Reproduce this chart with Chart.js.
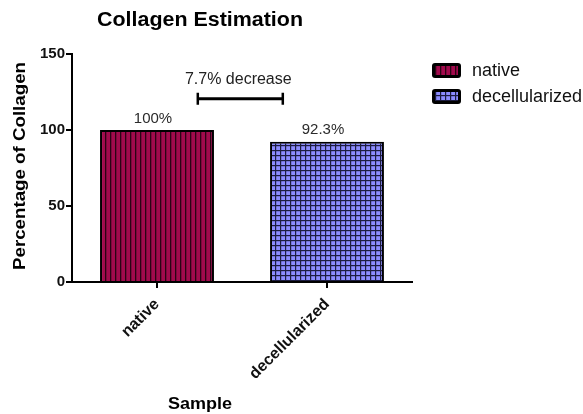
<!DOCTYPE html>
<html>
<head>
<meta charset="utf-8">
<script src="https://cdn.jsdelivr.net/npm/chart.js@4.4.0/dist/chart.umd.min.js"></script>
<style>
  html, body { margin: 0; padding: 0; background: #ffffff; }
  #wrap { width: 583px; height: 414px; }
</style>
</head>
<body>
<div id="wrap"><canvas id="chart" width="583" height="414"></canvas></div>
<script>
// Chart data
const categories = ['native', 'decellularized'];
const collagenPercent = [100, 92.3];
const valueLabels = ['100%', '92.3%'];
const yTicks = [0, 50, 100, 150];

// comparison bracket (category index span, value level)
const bracketLabel = '7.7% decrease';
const bracketSpan = [0.24, 0.74];
const bracketLevel = 120.5;

const FONT = '"Liberation Sans", Arial, sans-serif';

// hatch patterns like the original GraphPad fills
function stripePattern() {
    const c = document.createElement('canvas');
    c.width = 5; c.height = 5;
    const g = c.getContext('2d');
    g.fillStyle = '#a10a4c';
    g.fillRect(0, 0, 5, 5);
    g.fillStyle = '#2a0414';
    g.fillRect(0, 0, 1.3, 5);
    return g.createPattern(c, 'repeat');
}

function gridPattern() {
    const c = document.createElement('canvas');
    c.width = 5; c.height = 5;
    const g = c.getContext('2d');
    g.fillStyle = '#8c8cff';
    g.fillRect(0, 0, 5, 5);
    g.fillStyle = '#1c1c40';
    g.fillRect(0, 0, 1.2, 5);
    g.fillRect(0, 0, 5, 1.2);
    return g.createPattern(c, 'repeat');
}

const fills = [stripePattern(), gridPattern()];

// one dataset per sample so each gets its own legend entry
const datasets = categories.map((name, i) => ({
    label: name,
    data: categories.map((_, j) => (j === i ? collagenPercent[i] : null)),
    backgroundColor: fills[i],
    borderColor: '#000000',
    borderWidth: 2,
    borderSkipped: 'bottom',
    barPercentage: 0.67,
    categoryPercentage: 1.0,
    grouped: false
}));

// text squeezed/stretched to a given width, the way the exported figure looks
function fitText(ctx, text, cx, cy, width) {
    const w = ctx.measureText(text).width;
    ctx.save();
    ctx.translate(cx, cy);
    ctx.scale(width / w, 1);
    ctx.textAlign = 'center';
    ctx.fillText(text, 0, 0);
    ctx.restore();
}

const extrasPlugin = {
    id: 'extras',
    afterDatasetsDraw(chart) {
        const ctx = chart.ctx;
        const x = chart.scales.x;
        const y = chart.scales.y;
        ctx.save();

        // value labels over bars
        ctx.font = '15px ' + FONT;
        ctx.fillStyle = '#2b2b2b';
        ctx.textAlign = 'center';
        ctx.textBaseline = 'bottom';
        collagenPercent.forEach((v, i) => {
            ctx.fillText(valueLabels[i], x.getPixelForValue(i) - 4, y.getPixelForValue(v) - 4);
        });

        // bracket
        const step = x.getPixelForValue(1) - x.getPixelForValue(0);
        const bx0 = x.getPixelForValue(0) + bracketSpan[0] * step;
        const bx1 = x.getPixelForValue(0) + bracketSpan[1] * step;
        const by = y.getPixelForValue(bracketLevel);
        ctx.strokeStyle = '#000000';
        ctx.lineWidth = 3;
        ctx.beginPath();
        ctx.moveTo(bx0, by); ctx.lineTo(bx1, by);
        ctx.stroke();
        ctx.lineWidth = 2.5;
        ctx.beginPath();
        ctx.moveTo(bx0, by - 6); ctx.lineTo(bx0, by + 6);
        ctx.moveTo(bx1, by - 6); ctx.lineTo(bx1, by + 6);
        ctx.stroke();
        ctx.font = '16px ' + FONT;
        ctx.fillStyle = '#222222';
        ctx.textBaseline = 'middle';
        ctx.fillText(bracketLabel, (bx0 + bx1) / 2 - 2, by - 19);

        // chart title
        ctx.font = 'bold 20px ' + FONT;
        ctx.fillStyle = '#000000';
        ctx.textBaseline = 'middle';
        fitText(ctx, 'Collagen Estimation', 200, 20, 206);

        // y axis title
        ctx.save();
        ctx.translate(20, 166);
        ctx.rotate(-Math.PI / 2);
        ctx.font = 'bold 17px ' + FONT;
        fitText(ctx, 'Percentage of Collagen', 0, 0, 208);
        ctx.restore();

        // x axis title
        ctx.font = 'bold 17px ' + FONT;
        fitText(ctx, 'Sample', 200, 404, 64);

        // legend
        chart.data.datasets.forEach((ds, i) => {
            const ly = 63 + i * 26;
            ctx.fillStyle = '#000000';
            ctx.beginPath();
            ctx.roundRect(432, ly, 29, 15, 3);
            ctx.fill();
            ctx.fillStyle = ds.backgroundColor;
            ctx.fillRect(435, ly + 3, 23, 9);
            ctx.fillStyle = '#111111';
            ctx.font = '18px ' + FONT;
            ctx.textAlign = 'left';
            ctx.textBaseline = 'middle';
            ctx.fillText(ds.label, 472, ly + 8);
        });
        ctx.restore();
    }
};

const whiteBg = {
    id: 'whiteBg',
    beforeDraw(chart) {
        const ctx = chart.ctx;
        ctx.save();
        ctx.fillStyle = '#ffffff';
        ctx.fillRect(0, 0, chart.width, chart.height);
        ctx.restore();
    }
};

new Chart(document.getElementById('chart'), {
    type: 'bar',
    data: { labels: categories, datasets: datasets },
    options: {
        responsive: false,
        animation: false,
        layout: { padding: { top: 54, left: 10, right: 171, bottom: 0 } },
        plugins: {
            legend: { display: false },
            title: { display: false },
            tooltip: { enabled: false }
        },
        scales: {
            x: {
                offset: true,
                grid: { display: true, drawOnChartArea: false, offset: false, tickLength: 6, lineWidth: 2, color: '#000000' },
                border: { display: true, color: '#000000', width: 2 },
                ticks: {
                    minRotation: 45,
                    maxRotation: 45,
                    padding: 7,
                    color: '#111111',
                    font: { family: FONT, size: 16, weight: 'bold' }
                },
                afterFit(scale) { scale.height = 132; }
            },
            y: {
                min: 0,
                max: 150,
                afterBuildTicks(scale) { scale.ticks = yTicks.map(v => ({ value: v })); },
                grid: { display: true, drawOnChartArea: false, tickLength: 6, lineWidth: 2, color: '#000000' },
                border: { display: true, color: '#000000', width: 2 },
                ticks: {
                    padding: 1,
                    color: '#111111',
                    font: { family: FONT, size: 15, weight: 'bold' }
                },
                afterFit(scale) { scale.width = 62; }
            }
        }
    },
    plugins: [whiteBg, extrasPlugin]
});
</script>
</body>
</html>
